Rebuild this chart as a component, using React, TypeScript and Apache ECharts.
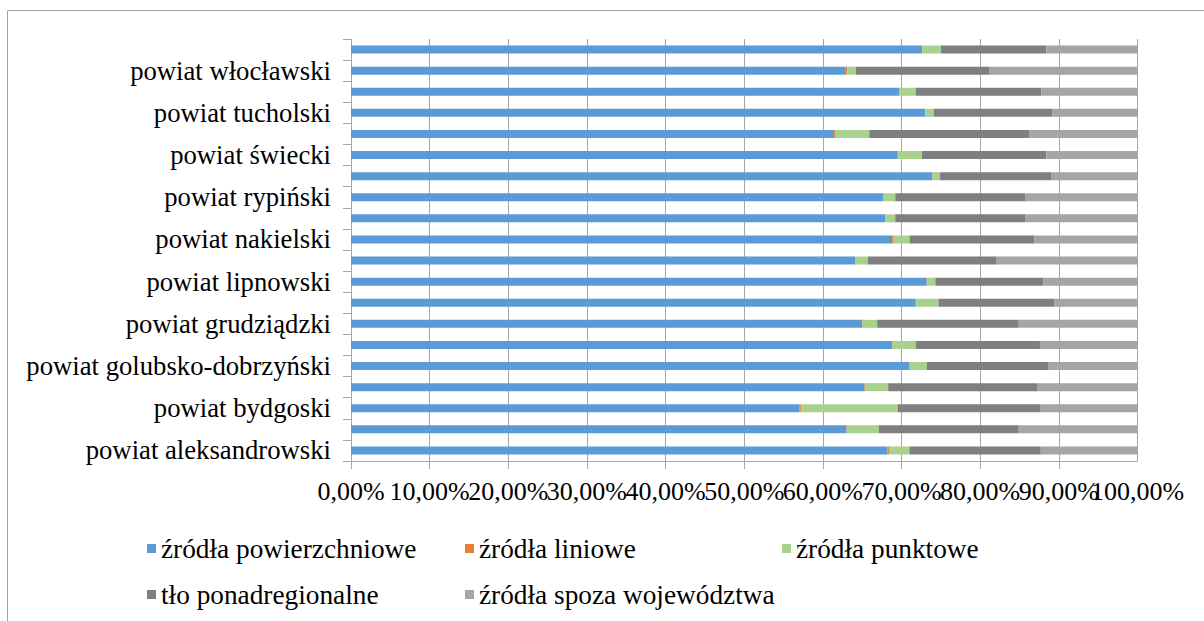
import React, { useEffect, useRef } from "react";
import * as echarts from "echarts";

const categories = [
  "powiat aleksandrowski",
  "powiat brodnicki",
  "powiat bydgoski",
  "powiat chełmiński",
  "powiat golubsko-dobrzyński",
  "powiat Grudziądz",
  "powiat grudziądzki",
  "powiat inowrocławski",
  "powiat lipnowski",
  "powiat mogileński",
  "powiat nakielski",
  "powiat radziejowski",
  "powiat rypiński",
  "powiat sępoleński",
  "powiat świecki",
  "powiat toruński",
  "powiat tucholski",
  "powiat wąbrzeski",
  "powiat włocławski",
  "powiat żniński",
];

const seriesNames = [
  "źródła powierzchniowe",
  "źródła liniowe",
  "źródła punktowe",
  "tło ponadregionalne",
  "źródła spoza województwa",
];

const surface = [68.2, 63.0, 57.0, 65.3, 71.0, 68.8, 65.0, 71.8, 73.2, 64.1, 68.8, 67.9, 67.7, 73.9, 69.5, 61.4, 73.0, 69.7, 62.9, 72.6];
const linear = [0.2, 0.05, 0.2, 0.05, 0.05, 0.05, 0.05, 0.05, 0.05, 0.05, 0.2, 0.05, 0.05, 0.05, 0.05, 0.2, 0.05, 0.05, 0.2, 0.05];
const point = [2.6, 4.05, 12.3, 2.95, 2.15, 2.95, 1.85, 2.85, 1.05, 1.55, 2.0, 1.25, 1.45, 0.95, 3.05, 4.3, 1.05, 2.05, 1.1, 2.35];
const background = [16.7, 17.8, 18.2, 19.0, 15.5, 15.8, 18.0, 14.7, 13.7, 16.4, 15.9, 16.5, 16.5, 14.1, 15.8, 20.3, 15.1, 16.0, 17.0, 13.4];
const outside = [12.3, 15.1, 12.3, 12.7, 11.3, 12.4, 15.1, 10.6, 12.0, 17.9, 13.1, 14.3, 14.3, 11.0, 11.6, 13.8, 10.8, 12.2, 18.8, 11.6];

const axisMin = 0;
const axisMax = 100;
const axisStep = 10;

const colors = ["#5B9BD5", "#ED7D31", "#A9D18E", "#7F7F7F", "#A5A5A5"];
const FONT = "Liberation Serif";

const fmt = (v: number) => v.toFixed(2).replace(".", ",") + "%";

export default function App() {
  const ref = useRef<HTMLDivElement>(null);

  useEffect(() => {
    if (!ref.current) return;
    const chart = echarts.init(ref.current, undefined, { renderer: "svg" });
    const values = [surface, linear, point, background, outside];

    const legendPos = [
      { left: 147, top: 535 },
      { left: 465, top: 535 },
      { left: 782, top: 535 },
      { left: 147, top: 581 },
      { left: 465, top: 581 },
    ];

    const labelStyle = {
      margin: 17,
      hideOverlap: false,
      fontFamily: FONT,
      fontSize: 26,
      color: "#000",
    };

    const option = {
      animation: false,
      backgroundColor: "#ffffff",
      color: colors,
      textStyle: { fontFamily: FONT },
      graphic: [
        {
          type: "rect",
          shape: { x: 7.5, y: 10.5, width: 1400, height: 800 },
          style: { fill: "none", stroke: "#A0A0A0", lineWidth: 1 },
          silent: true,
        },
      ],
      grid: {
        left: 351,
        right: 66.5,
        top: 39,
        bottom: 160,
        containLabel: false,
      },
      legend: seriesNames.map((n, i) => ({
        data: [n],
        left: legendPos[i].left,
        top: legendPos[i].top,
        orient: "horizontal",
        icon: "rect",
        itemWidth: 9,
        itemHeight: 9,
        padding: 0,
        selectedMode: false,
        textStyle: { fontFamily: FONT, fontSize: 27.3, color: "#000" },
      })),
      xAxis: [
        {
          type: "value",
          position: "bottom",
          min: axisMin,
          max: axisMax,
          interval: axisStep,
          axisLine: { show: true, lineStyle: { color: "#A6A6A6", width: 1 } },
          axisTick: { show: true, length: 8, lineStyle: { color: "#A6A6A6" } },
          splitLine: { show: true, lineStyle: { color: "#A6A6A6", width: 1 } },
          axisLabel: {
            ...labelStyle,
            showMinLabel: true,
            showMaxLabel: false,
            formatter: fmt,
          },
        },
        {
          type: "value",
          position: "bottom",
          offset: 0,
          min: axisMin,
          max: axisMax,
          interval: axisStep,
          axisLine: { show: false },
          axisTick: { show: false },
          splitLine: { show: false },
          axisLabel: {
            ...labelStyle,
            showMinLabel: false,
            showMaxLabel: true,
            formatter: (v: number) => (v === axisMax ? fmt(v) : ""),
          },
        },
      ],
      yAxis: {
        type: "category",
        data: categories,
        axisLine: { show: true, lineStyle: { color: "#A6A6A6", width: 1 } },
        axisTick: { show: true, length: 8, interval: 0, alignWithLabel: false, lineStyle: { color: "#A6A6A6" } },
        splitLine: { show: false },
        axisLabel: {
          interval: 1,
          margin: 20,
          fontFamily: FONT,
          fontSize: 26.7,
          color: "#000",
        },
      },
      series: seriesNames.map((n, i) => ({
        name: n,
        type: "bar",
        stack: "total",
        xAxisIndex: 0,
        data: values[i],
        barWidth: 8,
        itemStyle: { color: colors[i] },
        emphasis: { disabled: true },
      })),
    };

    chart.setOption(option as any);
    return () => chart.dispose();
  }, []);

  return (
    <div
      ref={ref}
      style={{ position: "fixed", left: 0, top: 0, width: 1204, height: 621, background: "#fff" }}
    />
  );
}
